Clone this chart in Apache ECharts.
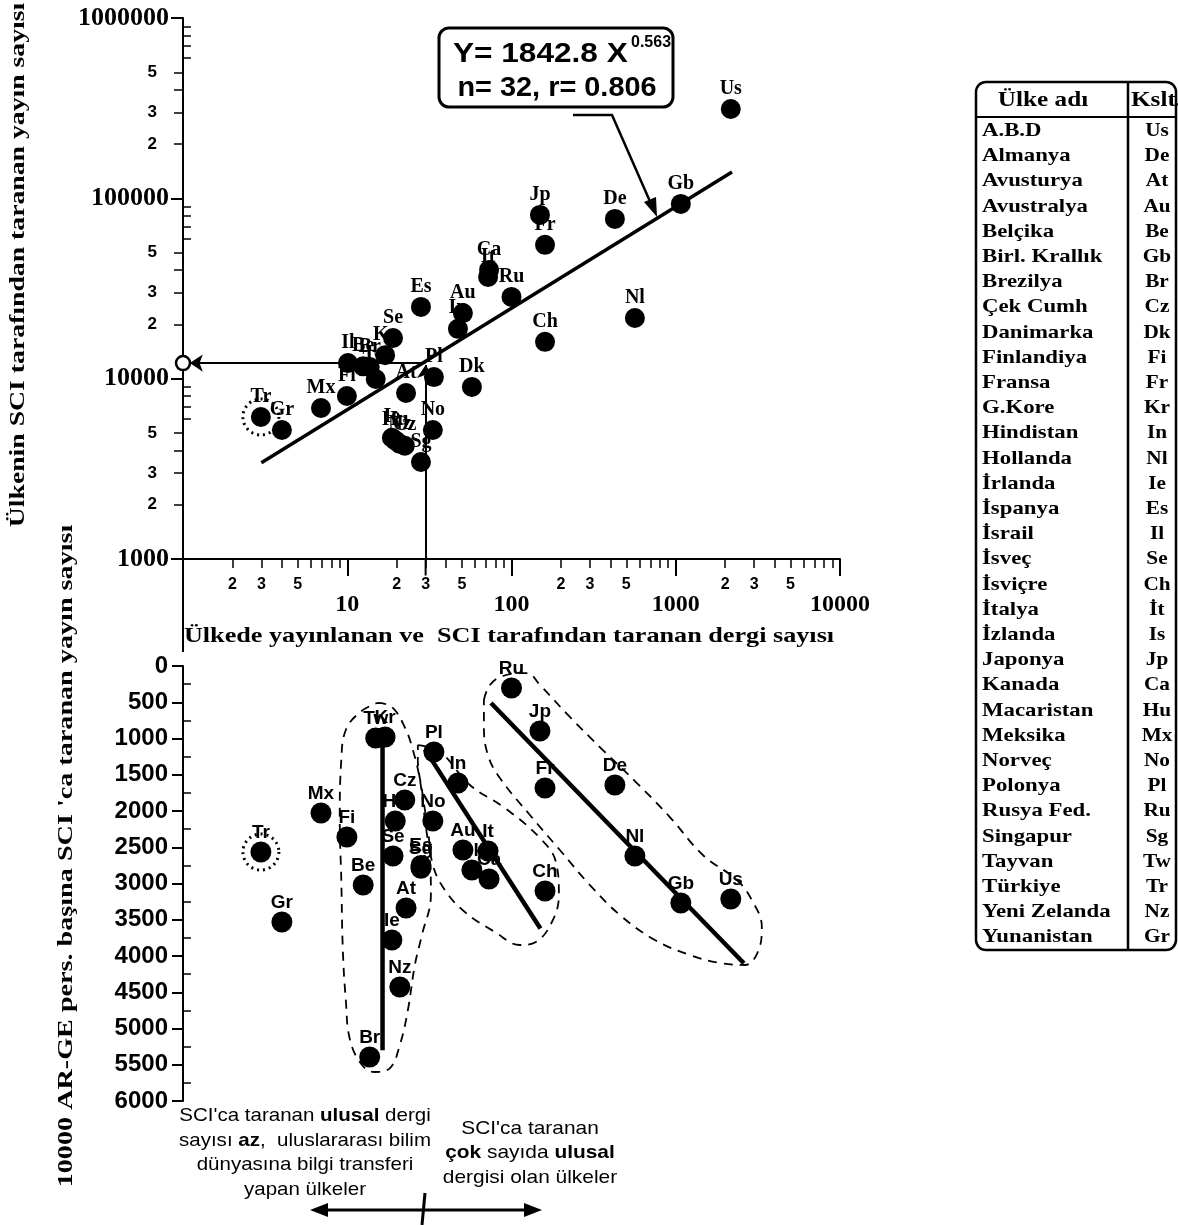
<!DOCTYPE html>
<html><head><meta charset="utf-8">
<script src="https://cdn.jsdelivr.net/npm/echarts@6/dist/echarts.min.js"></script>
<style>html,body{margin:0;padding:0;background:#fff}#c{width:1178px;height:1225px}</style>
</head><body><div id="c"></div>
<script>
// ---------- data ----------
const codes = ['Us','Gb','De','Jp','Fr','Ca','It','Ru','Au','In','Es','Se','Kr','Il','Be','Br','Tw','Fi','Mx','Tr','Gr','At','Pl','Dk','No','Sg','Ch','Nl','Ie','Hu','Nz','Cz'];
const journals = [2163,1074,426,149,160,73,72,100,50.6,47.2,28.1,19.0,17.0,10.1,12.5,13.7,14.9,9.95,6.92,2.98,4.0,22.8,33.7,57.4,33.2,28.1,160,564,18.7,19.6,20.9,22.4];
const publications = [313000,93100,76900,80900,55200,40100,36600,28400,23100,18900,25000,16800,13500,12200,11700,11600,9960,8020,6880,6130,5190,8330,10200,9000,5190,3450,16000,21700,4700,4550,4350,4250];
const perResearcher = [3214,3269,1641,897,1683,2938,2552,303,2538,1614,2750,2621,979,null,3021,5393,993,2359,2028,2566,3531,3338,1186,2814,2138,2790,3103,2621,3779,2138,4428,1848];

const fitLine = [[3,3420],[2200,140000]];
const markedPoint = [30,12200];
const circledCode = 'Tr';

const groupLineA = [[16.4,990],[16.4,5300]];
const groupLineB = [[29.7,1150],[150,3620]];
const groupLineC = [[75,510],[2600,4100]];

const outlineA = [[15.2,510],[18.7,566],[22.5,855],[25.1,1159],[27.7,1572],[29.7,2124],[31.9,2676],[32.3,3159],[28.5,3710],[25.8,4124],[23.4,4745],[20.9,5228],[18.2,5545],[14.7,5600],[12.3,5503],[10.4,5159],[9.8,4607],[9.4,3917],[9.2,2952],[9.0,2124],[9.2,1297],[9.8,883],[12.0,634],[15.2,510]];
const outlineB = [[26.9,1090],[36.7,1186],[55.8,1641],[91.2,1959],[148.9,2372],[186.3,2703],[194.3,3159],[176.2,3531],[140.8,3807],[112.5,3848],[79.3,3669],[52.0,3393],[39.3,3090],[33.2,2745],[31.0,2262],[28.5,1710],[26.9,1297],[26.9,1090]];
const outlineC = [[67.9,469],[73.9,262],[88.6,138],[124.1,97],[148.9,262],[226.6,703],[360,1159],[579.8,1614],[920.6,2083],[1462,2607],[2354,2952],[2906,3228],[3342,3600],[3160,3945],[2634,4124],[1855,4097],[1218,3986],[746.1,3779],[456.7,3434],[300.1,3021],[197,2538],[129.4,2055],[85,1545],[71.8,1228],[67.9,814],[67.9,469]];

const xMinorTicks = [2,3,4,5,6,7,8,9,20,30,40,50,60,70,80,90,200,300,400,500,600,700,800,900,2000,3000,4000,5000,6000,7000,8000,9000];
const xMajorTicks = [1,10,100,1000,10000];
const xMinorLabels = [2,3,5,20,30,50,200,300,500,2000,3000,5000];
const xMajorLabels = [10,100,1000,10000];
const yOuterTicks = [2000,3000,4000,5000,20000,30000,40000,50000,200000,300000,400000,500000];
const yInnerTicks = [6000,7000,8000,9000,60000,70000,80000,90000,600000,700000,800000,900000];
const yMajorTicks = [1000,10000,100000,1000000];
const yMinorLabels = [2000,3000,5000,20000,30000,50000,200000,300000,500000];
const yMajorLabels = [1000,10000,100000,1000000];
const bottomInnerTicks = [250,750,1250,1750,2250,2750,3250,3750,4250,4750,5250,5750];

const tableNames = ['A.B.D','Almanya','Avusturya','Avustralya','Belçika','Birl. Krallık','Brezilya','Çek Cumh','Danimarka','Finlandiya','Fransa','G.Kore','Hindistan','Hollanda','İrlanda','İspanya','İsrail','İsveç','İsviçre','İtalya','İzlanda','Japonya','Kanada','Macaristan','Meksika','Norveç','Polonya','Rusya Fed.','Singapur','Tayvan','Türkiye','Yeni Zelanda','Yunanistan'];
const tableCodes = ['Us','De','At','Au','Be','Gb','Br','Cz','Dk','Fi','Fr','Kr','In','Nl','Ie','Es','Il','Se','Ch','İt','Is','Jp','Ca','Hu','Mx','No','Pl','Ru','Sg','Tw','Tr','Nz','Gr'];

// ---------- chart ----------
const serif = '"Liberation Serif", "Times New Roman", serif';
const sans = '"Liberation Sans", Arial, sans-serif';
const lead = v => { const e = Math.floor(Math.log10(v) + 1e-9); return String(Math.round(v / Math.pow(10, e))); };

const topPts = codes.map((c, i) => [journals[i], publications[i], c]);
const botPts = codes.map((c, i) => perResearcher[i] == null ? null : [journals[i], perResearcher[i], c]).filter(Boolean);
const ci = codes.indexOf(circledCode);

const chart = echarts.init(document.getElementById('c'));

const xBase = {type:'log', logBase:10, min:1, max:10000, gridIndex:0, position:'bottom', offset:0, splitLine:{show:false}, axisPointer:{show:false}};
const yBase = {type:'log', logBase:10, min:1000, max:1000000, gridIndex:0, position:'left', offset:0, splitLine:{show:false}, axisPointer:{show:false}};

function T(text, x, y, font, align, valign, rot, sx, rich) {
  const o = {type:'text', x:x, y:y, rotation:rot||0, scaleX:sx||1, scaleY:1, silent:true,
    style:{text:text, x:0, y:0, font:font, fill:'#000', align:align||'center', verticalAlign:valign||'middle', textAlign:align||'center', textVerticalAlign:valign||'middle'}};
  if (rich) { o.style.rich = rich; }
  return o;
}
const g = [];
// axis line extension and axis names
g.push({type:'line', silent:true, shape:{x1:183,y1:559,x2:183,y2:652}, style:{stroke:'#000', lineWidth:2}});
g.push(T('Ülkenin SCI tarafından taranan yayın sayısı', 18, 265, 'bold 22px ' + serif, 'center', 'middle', Math.PI/2, 1.26));
g.push(T('10000 AR-GE pers. başına SCI \'ca taranan yayın sayısı', 66, 856, 'bold 22px ' + serif, 'center', 'middle', Math.PI/2, 1.28));
g.push(T('Ülkede yayınlanan ve  SCI tarafından taranan dergi sayısı', 509, 636, 'bold 22px ' + serif, 'center', 'middle', 0, 1.19));
// equation box
g.push({type:'rect', silent:true, shape:{x:439,y:28,width:234,height:79,r:10}, style:{fill:'#fff', stroke:'#000', lineWidth:3}});
g.push(T('Y= 1842.8 X', 453, 55, 'bold 27px ' + sans, 'left', 'middle', 0, 1.17));
g.push(T('0.563', 631, 43, 'bold 16px ' + sans, 'left', 'middle'));
g.push(T('n= 32, r= 0.806', 557, 89, 'bold 27px ' + sans, 'center', 'middle', 0, 1.07));
g.push({type:'polyline', silent:true, shape:{points:[[573,115],[612,115],[652,206]]}, style:{stroke:'#000', lineWidth:2.5, fill:'none'}});
g.push({type:'polygon', silent:true, shape:{points:[[657,217],[656,197],[644,202]]}, style:{fill:'#000'}});
// table
g.push({type:'rect', silent:true, shape:{x:976,y:82,width:200,height:868,r:10}, style:{fill:'none', stroke:'#000', lineWidth:2.5}});
g.push({type:'line', silent:true, shape:{x1:976,y1:117,x2:1176,y2:117}, style:{stroke:'#000', lineWidth:2}});
g.push({type:'line', silent:true, shape:{x1:1128,y1:82,x2:1128,y2:950}, style:{stroke:'#000', lineWidth:2.5}});
g.push(T('Ülke adı', 1043, 101, 'bold 21px ' + serif, 'center', 'middle', 0, 1.2));
g.push(T('Kslt.', 1131, 101, 'bold 21px ' + serif, 'left', 'middle', 0, 1.2));
tableNames.forEach((n, i) => {
  g.push(T(n, 982, 131 + i * 25.2, 'bold 19px ' + serif, 'left', 'middle', 0, 1.2));
  g.push(T(tableCodes[i], 1157, 131 + i * 25.2, 'bold 19px ' + serif, 'center', 'middle', 0, 1.12));
});
// bottom explanatory text
const rich = {b:{fontWeight:'bold', fontSize:19, fontFamily:sans, lineHeight:24.5}, n:{fontSize:19, fontFamily:sans, lineHeight:24.5}};
g.push(T('{n|SCI\'ca taranan }{b|ulusal}{n| dergi}\n{n|sayısı }{b|az}{n|,  uluslararası bilim}\n{n|dünyasına bilgi transferi}\n{n|yapan ülkeler}', 305, 1153, '19px ' + sans, 'center', 'middle', 0, 1.08, rich));
g.push(T('{n|SCI\'ca taranan}\n{b|çok}{n| sayıda }{b|ulusal}\n{n|dergisi olan ülkeler}', 530, 1153, '19px ' + sans, 'center', 'middle', 0, 1.1, rich));
g.push({type:'line', silent:true, shape:{x1:322,y1:1210,x2:532,y2:1210}, style:{stroke:'#000', lineWidth:3}});
g.push({type:'polygon', silent:true, shape:{points:[[310,1210],[328,1203],[328,1217]]}, style:{fill:'#000'}});
g.push({type:'polygon', silent:true, shape:{points:[[542,1210],[524,1203],[524,1217]]}, style:{fill:'#000'}});
g.push({type:'line', silent:true, shape:{x1:425,y1:1193,x2:422,y2:1225}, style:{stroke:'#000', lineWidth:3}});

const solid = {color:'#000', opacity:1};
const option = {
  animation:false,
  backgroundColor:'#fff',
  textStyle:{fontFamily:sans},
  grid:[
    {left:183, top:18, width:657, height:541, outerBoundsMode:'none', containLabel:false},
    {left:183, top:666, width:657, height:435, outerBoundsMode:'none', containLabel:false}
  ],
  xAxis:[
    Object.assign({}, xBase, {axisLine:{show:true, lineStyle:{color:'#000', width:2}},
      axisTick:{show:true, customValues:xMinorTicks, length:9, inside:false, lineStyle:{color:'#000', width:1.5}},
      axisLabel:{show:true, customValues:xMinorLabels, formatter:v => lead(v), fontFamily:sans, fontWeight:'bold', fontSize:16, color:'#000', margin:18}}),
    Object.assign({}, xBase, {axisLine:{show:false},
      axisTick:{show:true, customValues:xMajorTicks, length:17, inside:false, lineStyle:{color:'#000', width:2}},
      axisLabel:{show:true, customValues:xMajorLabels, formatter:v => String(Math.round(v)), fontFamily:serif, fontWeight:'bold', fontSize:24, color:'#000', margin:34}}),
    {type:'log', logBase:10, min:1, max:10000, gridIndex:1, show:false}
  ],
  yAxis:[
    Object.assign({}, yBase, {axisLine:{show:true, lineStyle:{color:'#000', width:2}},
      axisTick:{show:true, customValues:yOuterTicks, length:9, inside:false, lineStyle:{color:'#000', width:1.5}},
      axisLabel:{show:true, customValues:yMinorLabels, formatter:v => lead(v), fontFamily:sans, fontWeight:'bold', fontSize:17, color:'#000', margin:26}}),
    Object.assign({}, yBase, {axisLine:{show:false},
      axisTick:{show:true, customValues:yMajorTicks, length:12, inside:false, lineStyle:{color:'#000', width:2}},
      axisLabel:{show:true, customValues:yMajorLabels, formatter:v => String(Math.round(v)), fontFamily:serif, fontWeight:'bold', fontSize:26, color:'#000', margin:14}}),
    Object.assign({}, yBase, {axisLine:{show:false},
      axisTick:{show:true, customValues:yInnerTicks, length:8, inside:true, lineStyle:{color:'#000', width:1.5}},
      axisLabel:{show:false}}),
    {type:'value', gridIndex:1, min:0, max:6000, interval:500, inverse:true, position:'left', offset:0,
      splitLine:{show:false}, axisLine:{show:true, lineStyle:{color:'#000', width:2}},
      axisTick:{show:true, length:11, inside:false, lineStyle:{color:'#000', width:2}},
      axisLabel:{show:true, formatter:v => String(v), fontFamily:sans, fontWeight:'bold', fontSize:24, color:'#000', margin:15}},
    {type:'value', gridIndex:1, min:0, max:6000, interval:500, inverse:true, position:'left', offset:0,
      splitLine:{show:false}, axisLine:{show:false},
      axisTick:{show:true, customValues:bottomInnerTicks, length:8, inside:true, lineStyle:{color:'#000', width:1.5}},
      axisLabel:{show:false}}
  ],
  series:[
    // ----- top panel -----
    {type:'line', xAxisIndex:0, yAxisIndex:0, z:1, data:fitLine, symbol:'none', silent:true,
      lineStyle:{color:'#000', width:3.5},
      markLine:{silent:true, symbol:['none','arrow'], symbolSize:13, label:{show:false},
        lineStyle:{color:'#000', width:2, type:'solid', opacity:1}, itemStyle:{color:'#000'}, emphasis:{disabled:true},
        data:[
          [{coord:[markedPoint[0], markedPoint[1]]}, {coord:[1.1, markedPoint[1]]}],
          [{coord:[markedPoint[0], 1000]}, {coord:[markedPoint[0], 11900]}]
        ]}},
    {type:'line', xAxisIndex:0, yAxisIndex:0, z:1, silent:true, clip:false, data:[[markedPoint[0], 810], [markedPoint[0], 1000]], symbol:'none',
      lineStyle:{color:'#000', width:2}},
    {type:'scatter', xAxisIndex:0, yAxisIndex:0, z:1, silent:true, data:[[1, markedPoint[1]]], symbol:'circle', symbolSize:14,
      itemStyle:{color:'#fff', borderColor:'#000', borderWidth:2.5, opacity:1}},
    {type:'scatter', xAxisIndex:0, yAxisIndex:0, z:2, silent:true, data:topPts, symbolSize:19,
      itemStyle:{color:'rgba(0,0,0,0)', opacity:1},
      label:{show:true, position:'top', distance:1, formatter:p => p.data[2], fontFamily:serif, fontWeight:'bold', fontSize:20, color:'#000', opacity:1}},
    {type:'scatter', xAxisIndex:0, yAxisIndex:0, z:3, silent:true, data:topPts, symbolSize:20, itemStyle:solid},
    {type:'scatter', xAxisIndex:0, yAxisIndex:0, z:3, silent:true, data:[topPts[ci]], symbolSize:36,
      itemStyle:{color:'rgba(0,0,0,0)', borderColor:'#000', borderWidth:3, borderType:[2,4], opacity:1}},
    // ----- bottom panel -----
    {type:'line', xAxisIndex:2, yAxisIndex:3, z:1, silent:true, data:outlineA, symbol:'none', smooth:0.4, lineStyle:{color:'#000', width:1.8, type:[9,7]}},
    {type:'line', xAxisIndex:2, yAxisIndex:3, z:1, silent:true, data:outlineB, symbol:'none', smooth:0.4, lineStyle:{color:'#000', width:1.8, type:[9,7]}},
    {type:'line', xAxisIndex:2, yAxisIndex:3, z:1, silent:true, data:outlineC, symbol:'none', smooth:0.4, lineStyle:{color:'#000', width:1.8, type:[9,7]}},
    {type:'line', xAxisIndex:2, yAxisIndex:3, z:1, silent:true, data:groupLineA, symbol:'none', lineStyle:{color:'#000', width:4.5}},
    {type:'line', xAxisIndex:2, yAxisIndex:3, z:1, silent:true, data:groupLineB, symbol:'none', lineStyle:{color:'#000', width:4.5}},
    {type:'line', xAxisIndex:2, yAxisIndex:3, z:1, silent:true, data:groupLineC, symbol:'none', lineStyle:{color:'#000', width:4.5}},
    {type:'scatter', xAxisIndex:2, yAxisIndex:3, z:2, silent:true, data:botPts, symbolSize:20,
      itemStyle:{color:'rgba(0,0,0,0)', opacity:1},
      label:{show:true, position:'top', distance:0, formatter:p => p.data[2], fontFamily:sans, fontWeight:'bold', fontSize:19, color:'#000', opacity:1}},
    {type:'scatter', xAxisIndex:2, yAxisIndex:3, z:3, silent:true, data:botPts, symbolSize:21, itemStyle:solid},
    {type:'scatter', xAxisIndex:2, yAxisIndex:3, z:3, silent:true, data:[botPts.find(d => d[2] === circledCode)], symbolSize:36,
      itemStyle:{color:'rgba(0,0,0,0)', borderColor:'#000', borderWidth:3, borderType:[2,4], opacity:1}}
  ],
  graphic:{elements:g}
};
chart.setOption(option);
</script></body></html>
